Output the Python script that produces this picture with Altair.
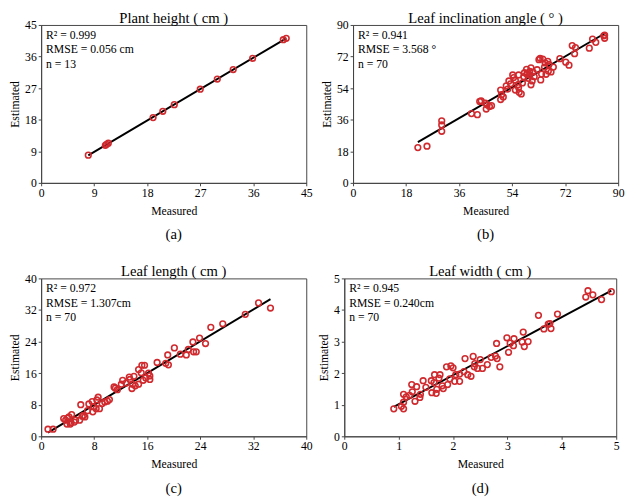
import altair as alt
import pandas as pd

FONT = "Liberation Serif"
RED = "#d02a2e"

# ---- Panel (a): Plant height (cm)
a_meas = [8.0, 10.9, 11.4, 11.1, 19.0, 20.65, 22.6, 27.0, 29.9, 32.6, 35.9, 41.1, 41.6]
a_est = [7.9, 10.7, 11.3, 11.0, 18.6, 20.4, 22.3, 26.7, 29.6, 32.3, 35.5, 40.8, 41.2]

# ---- Panel (b): Leaf inclination angle (deg)
b_meas = [22.0, 25.1, 30.1, 30.1, 30.1, 40.2, 42.2, 43.0, 44.9, 45.2, 46.3, 50.1, 50.1, 50.4,
          52.0, 52.9, 54.2, 55.1, 55.1, 56.2, 56.4, 57.1, 56.2, 58.2, 58.9, 60.4, 60.0, 60.4,
          60.8, 59.5, 61.1, 63.1, 64.4, 63.7, 65.2, 65.5, 66.1, 66.3, 67.2, 70.2, 72.2, 73.3,
          74.4, 75.5, 75.2, 80.2, 81.3, 82.4, 85.1, 85.4, 85.4,
          51.0, 53.5, 54.5, 57.5, 58.0, 59.0, 61.5, 62.5, 64.0, 65.0, 66.5, 45.5, 43.5, 47.0,
          56.0, 63.5, 60.0, 52.5, 68.0]
b_est = [20.1, 20.9, 35.4, 33.0, 29.4, 39.5, 38.9, 46.4, 45.5, 42.1, 43.6, 47.5, 52.9, 50.3,
         55.3, 58.1, 61.5, 58.5, 52.9, 54.4, 51.6, 50.7, 61.5, 62.8, 64.7, 65.6, 61.5, 55.9,
         58.1, 59.6, 63.2, 70.2, 70.6, 58.7, 68.4, 61.9, 69.3, 63.7, 63.2, 70.8, 68.8, 67.1,
         78.3, 77.1, 73.6, 76.8, 82.0, 80.1, 83.8, 82.4, 84.2,
         49.0, 56.5, 60.0, 57.0, 60.5, 62.0, 60.5, 64.5, 62.0, 66.0, 67.5, 44.5, 46.8, 44.0,
         56.0, 71.0, 63.5, 53.5, 66.0]

# ---- Panel (c): Leaf length (cm)
c_meas = [1.03, 1.8, 3.4, 3.7, 3.9, 4.4, 4.6, 4.5, 5.2, 5.8, 5.98, 6.2, 6.6, 7.2, 7.7, 7.8,
          8.3, 8.4, 8.6, 8.8, 9.6, 10.0, 11.0, 11.2, 12.1, 12.3, 13.3, 13.4, 13.7, 13.8, 14.7,
          14.7, 15.1, 15.2, 15.6, 15.4, 16.4, 16.4, 17.5, 19.1, 19.2, 20.1, 21.9, 22.9, 23.0,
          23.4, 23.9, 24.8, 25.6, 27.4, 30.8, 32.8, 34.6,
          4.2, 4.0, 5.0, 6.4, 7.0, 7.9, 9.2, 10.3, 11.5, 12.8, 14.2, 14.0, 15.8, 16.2, 18.8,
          21.0, 22.2]
c_est = [1.8, 1.8, 4.5, 4.1, 3.1, 3.1, 5.5, 3.5, 4.1, 4.1, 8.0, 5.1, 4.9, 8.2, 8.8, 6.2,
         7.0, 9.2, 9.9, 7.0, 8.7, 8.9, 12.5, 12.2, 13.2, 14.2, 15.0, 14.4, 12.1, 13.2, 13.2,
         16.9, 16.1, 18.0, 18.0, 14.2, 15.3, 14.4, 18.7, 20.6, 18.1, 22.4, 20.6, 23.9, 21.4,
         21.4, 24.9, 23.5, 27.6, 28.5, 30.9, 33.8, 32.5,
         4.9, 4.6, 3.6, 5.3, 6.5, 7.5, 8.3, 9.3, 11.8, 13.5, 12.8, 15.2, 14.8, 16.0, 18.5,
         20.8, 22.0]

# ---- Panel (d): Leaf width (cm)
d_meas = [0.91, 1.09, 1.09, 1.14, 1.09, 1.24, 1.25, 1.33, 1.30, 1.39, 1.40, 1.45, 1.60, 1.61,
          1.66, 1.69, 1.70, 1.76, 1.74, 1.82, 1.88, 1.90, 1.94, 1.96, 2.00, 2.03, 2.12, 2.12,
          2.22, 2.27, 2.33, 2.37, 2.39, 2.45, 2.50, 2.54, 2.63, 2.78, 2.80, 2.81, 2.86, 2.99,
          3.02, 3.11, 3.12, 3.29, 3.27, 3.31, 3.38, 3.57, 3.67, 3.78, 3.80, 3.92, 4.44, 4.48,
          4.57, 4.73, 4.91,
          1.05, 1.2, 1.5, 1.65, 1.8, 2.05, 2.2, 2.4, 2.7, 3.05, 3.75]
d_est = [0.87, 0.87, 1.33, 1.25, 1.08, 1.64, 1.41, 1.57, 1.11, 1.23, 1.33, 1.76, 1.76, 1.38,
         1.95, 1.36, 1.49, 1.95, 1.84, 1.51, 2.20, 1.64, 1.82, 2.23, 2.17, 1.74, 1.74, 1.97,
         2.46, 1.95, 1.90, 2.53, 2.20, 2.15, 2.43, 2.15, 2.27, 2.54, 2.94, 2.46, 2.20, 3.12,
         2.66, 2.87, 3.09, 3.30, 2.99, 2.84, 3.00, 3.83, 3.40, 3.57, 3.41, 3.87, 4.41, 4.61,
         4.48, 4.33, 4.58,
         0.95, 1.3, 1.55, 1.7, 1.6, 1.95, 2.05, 2.3, 2.5, 2.95, 3.55]

titles = ["Plant height ( cm )", "Leaf inclination angle ( \u00b0 )", "Leaf length ( cm )", "Leaf width ( cm )"]
letters = ["(a)", "(b)", "(c)", "(d)"]
ticks_a = [0, 9, 18, 27, 36, 45]
ticks_b = [0, 18, 36, 54, 72, 90]
ticks_c = [0, 8, 16, 24, 32, 40]
ticks_d = [0, 1, 2, 3, 4, 5]
stats_a = ["R\u00b2  = 0.999", "RMSE = 0.056 cm", "n = 13"]
stats_b = ["R\u00b2  = 0.941", "RMSE = 3.568 \u00b0", "n = 70"]
stats_c = ["R\u00b2  = 0.972", "RMSE = 1.307cm", "n = 70"]
stats_d = ["R\u00b2  = 0.945", "RMSE = 0.240cm", "n = 70"]

H = 162


def panel(meas, est, ticks, title, letter, stats, width):
    df = pd.DataFrame({"Measured": meas, "Estimated": est})
    dom = [ticks[0], ticks[-1]]
    xenc = alt.X("Measured:Q", scale=alt.Scale(domain=dom, nice=False),
                 axis=alt.Axis(values=ticks, title="Measured"))
    yenc = alt.Y("Estimated:Q", scale=alt.Scale(domain=dom, nice=False),
                 axis=alt.Axis(values=ticks, title="Estimated"))
    pts = alt.Chart(df).mark_point(shape="circle", filled=False, color=RED,
                                   size=34, strokeWidth=1.6, opacity=1).encode(x=xenc, y=yenc)
    line = alt.Chart(df).transform_regression("Measured", "Estimated").mark_line(
        color="black", strokeWidth=2).encode(x=xenc, y=yenc)
    sdf = pd.DataFrame({"t": ["\n".join(stats)], "lab": [letter], "title": [title]})
    st = alt.Chart(sdf).mark_text(align="left", baseline="top", font=FONT, fontSize=12,
                                  lineBreak="\n", lineHeight=15, color="black").encode(
        x=alt.value(5), y=alt.value(5), text="t:N")
    lab = alt.Chart(sdf).mark_text(align="center", baseline="middle", font=FONT, fontSize=15,
                                   color="black").encode(
        x=alt.value(width / 2), y=alt.value(H + 53), text="lab:N")
    ttl = alt.Chart(sdf).mark_text(align="center", baseline="top", font=FONT,
                                   fontSize=15, color="black").encode(
        x=alt.value(width / 2), y=alt.value(-14), text="title:N")
    return alt.layer(line, pts, st, lab, ttl).properties(width=width, height=H)


pa = panel(a_meas, a_est, ticks_a, titles[0], letters[0], stats_a, 272)
pb = panel(b_meas, b_est, ticks_b, titles[1], letters[1], stats_b, 272)
pc = panel(c_meas, c_est, ticks_c, titles[2], letters[2], stats_c, 272)
pd_ = panel(d_meas, d_est, ticks_d, titles[3], letters[3], stats_d, 279)

chart = alt.vconcat(
    alt.hconcat(pa, pb, spacing=7),
    alt.hconcat(pc, pd_, spacing=4),
    spacing=21,
).properties(padding={"top": -4, "left": 0, "right": 0, "bottom": 0}).configure_axis(
    labelFont=FONT, titleFont=FONT, labelFontSize=12, titleFontSize=12,
    titleFontWeight="normal", labelColor="black", titleColor="black",
    domainColor="#444444", tickColor="#444444", tickSize=3, labelPadding=2,
    grid=False, labelFlush=False,
).configure_axisX(titlePadding=7).configure_axisY(titlePadding=3).configure_view(
    stroke="#444444", strokeWidth=1
)

chart.save("out.html", embed_options={"renderer": "svg", "actions": False})
